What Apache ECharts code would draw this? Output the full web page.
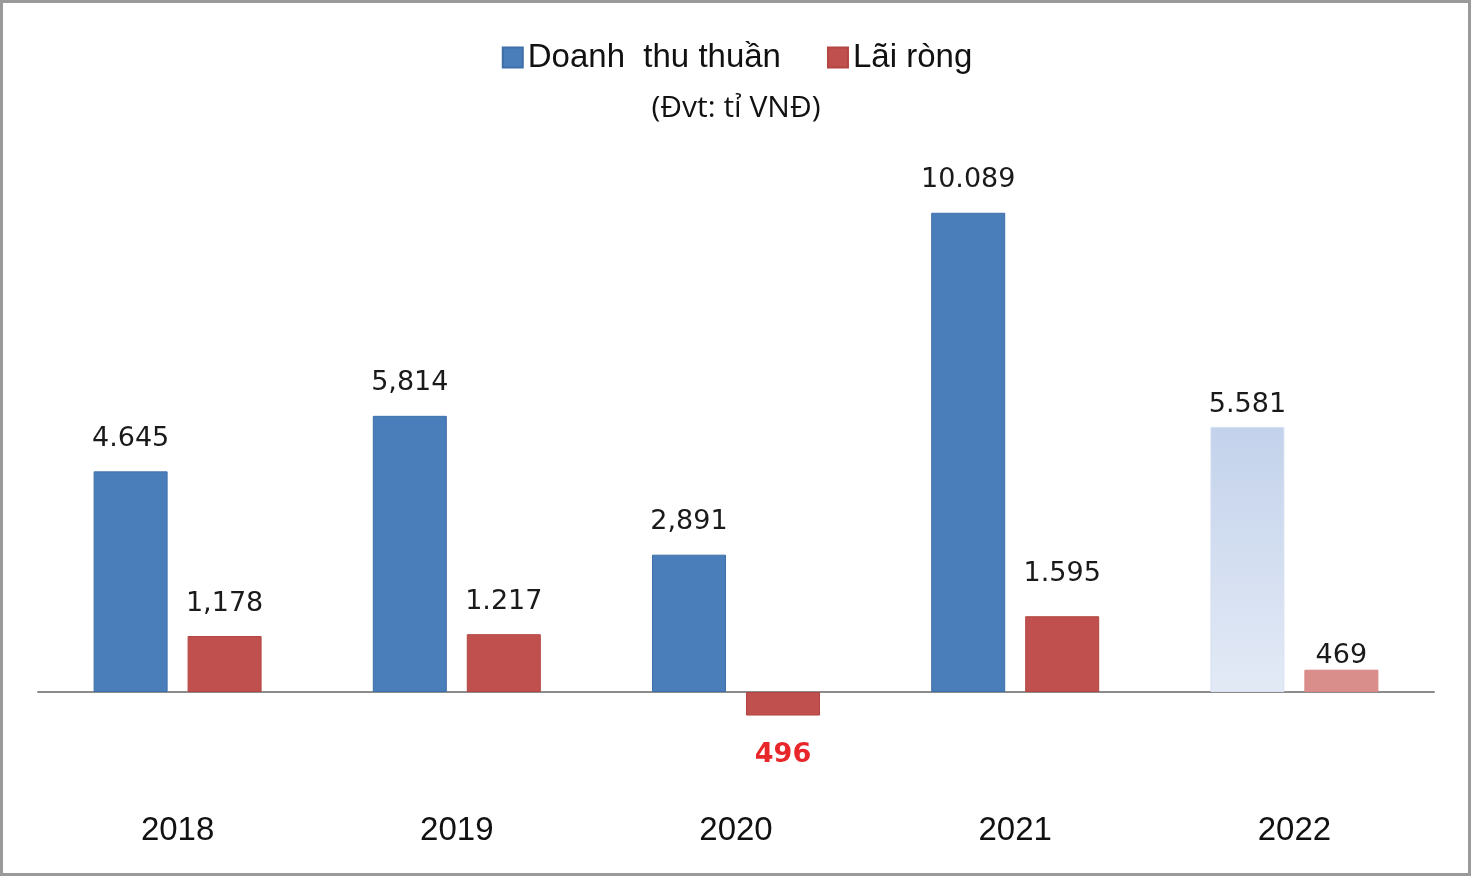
<!DOCTYPE html>
<html>
<head>
<meta charset="utf-8">
<style>
html,body{margin:0;padding:0;background:#fff;}
#chart{width:1474px;height:878px;}
</style>
<script src="https://cdn.jsdelivr.net/npm/echarts@6/dist/echarts.min.js"></script>
</head>
<body>
<div id="chart"></div>
<script>
var years = ['2018', '2019', '2020', '2021', '2022'];
var revenue = [4645, 5814, 2891, 10089, 5581];
var profit = [1178, 1217, -496, 1595, 469];
var revenueLabels = ['4.645', '5,814', '2,891', '10.089', '5.581'];
var profitLabels = ['1,178', '1.217', '496', '1.595', '469'];
var seriesNames = ['Doanh  thu thuần', 'Lãi ròng'];
var unitText = '(Đvt: tỉ VNĐ)';

var chart = echarts.init(document.getElementById('chart'));
var labelFont = {fontFamily: 'DejaVu Sans', fontSize: 27, color: '#1a1a1a'};

var revData = revenue.map(function (v, i) {
  var item = {value: v};
  if (i === 4) {
    item.itemStyle = {
      color: new echarts.graphic.LinearGradient(0, 0, 0, 1, [
        {offset: 0, color: '#c3d2eb'},
        {offset: 1, color: '#e3eaf6'}
      ]),
      borderColor: '#d6e0f1'
    };
    item.label = {distance: 8};
  }
  return item;
});
var profData = profit.map(function (v, i) {
  var item = {value: v};
  if (v < 0) {
    item.label = {position: 'bottom', distance: 26, color: '#e8262a', fontWeight: 'bold'};
  }
  if (i === 3) item.label = {distance: 29};
  if (i === 4) {
    item.itemStyle = {color: '#da8e8c', borderColor: '#d88583'};
    item.label = {distance: 0};
  }
  return item;
});

chart.setOption({
  animation: false,
  title: {
    text: unitText,
    left: 731, textAlign: 'center', top: 88,
    textStyle: {fontFamily: 'Open Sans', fontSize: 30, fontWeight: 'normal', color: '#111'}
  },
  legend: {
    top: 36, left: 'center',
    itemWidth: 20, itemHeight: 20, itemGap: 46,
    icon: 'rect',
    textStyle: {fontFamily: 'Liberation Sans', fontSize: 33, color: '#111', padding: [0, 0, 0, 0]},
    data: seriesNames
  },
  grid: {left: 38, right: 40, top: 122, bottom: 91, containLabel: false, outerBoundsMode: 'none'},
  xAxis: [{
    type: 'category',
    data: years,
    axisLine: {onZero: true, lineStyle: {color: '#8c8c8c', width: 2}},
    axisTick: {show: false},
    axisLabel: {show: false}
  }, {
    type: 'category',
    data: years,
    position: 'bottom',
    axisLine: {show: false, onZero: false},
    axisTick: {show: false},
    axisLabel: {margin: 27, fontFamily: 'Liberation Sans', fontSize: 33, color: '#111'}
  }],
  yAxis: {
    type: 'value', min: -2000, max: 12000, interval: 2000,
    show: false, splitLine: {show: false}
  },
  graphic: [{
    type: 'rect', silent: true, z: 100,
    shape: {x: 1.5, y: 1.5, width: 1468, height: 873},
    style: {fill: 'none', stroke: '#9a9a9a', lineWidth: 3}
  }],
  series: [{
    name: seriesNames[0], type: 'bar', barWidth: 74, barGap: '27%', xAxisIndex: 0,
    itemStyle: {color: '#4a7ebb', borderColor: '#3f6fa8', borderWidth: 1},
    label: Object.assign({show: true, position: 'top', distance: 19,
      formatter: function (p) { return revenueLabels[p.dataIndex]; }}, labelFont),
    data: revData
  }, {
    name: seriesNames[1], type: 'bar', barWidth: 74, xAxisIndex: 0,
    itemStyle: {color: '#c0504d', borderColor: '#b34542', borderWidth: 1},
    label: Object.assign({show: true, position: 'top', distance: 19,
      formatter: function (p) { return profitLabels[p.dataIndex]; }}, labelFont),
    data: profData
  }]
});
</script>
</body>
</html>
